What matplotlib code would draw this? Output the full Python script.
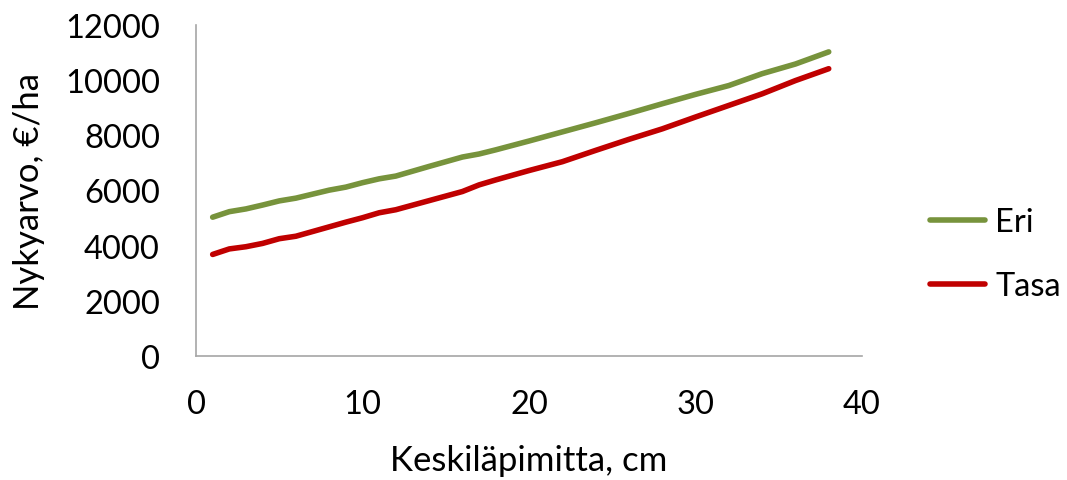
import matplotlib
matplotlib.use("Agg")
import matplotlib.pyplot as plt

plt.rcParams['font.family'] = ['Lato', 'DejaVu Sans']

# Keskiläpimitta (cm)
diameter = [1, 2, 3, 4, 5, 6, 8, 9, 10, 11, 12, 14, 16, 17, 18, 20, 22, 24, 26, 28, 30, 32, 34, 36, 38]

# Nykyarvo (€/ha)
eri = [5030, 5230, 5330, 5470, 5620, 5720, 6010, 6120, 6280, 6420, 6520, 6870, 7210, 7320,
       7470, 7790, 8120, 8450, 8790, 9140, 9480, 9800, 10230, 10580, 11020]
tasa = [3680, 3880, 3960, 4080, 4250, 4340, 4680, 4850, 5010, 5190, 5300, 5630, 5960, 6200,
        6380, 6720, 7040, 7450, 7850, 8230, 8660, 9080, 9500, 9980, 10410]

fig = plt.figure(figsize=(10.67, 4.81), dpi=100)
ax = fig.add_axes([0.1837, 0.2578, 0.6242, 0.6885])

ax.plot(diameter, eri, color='#77933C', linewidth=4.0, solid_capstyle='round', label='Eri')
ax.plot(diameter, tasa, color='#C00000', linewidth=4.0, solid_capstyle='round', label='Tasa')

ax.set_xlim(0, 40)
ax.set_ylim(0, 12000)
ax.set_xticks([0, 10, 20, 30, 40])
ax.set_yticks(range(0, 12001, 2000))

for side in ['top', 'right']:
    ax.spines[side].set_visible(False)
for side in ['left', 'bottom']:
    ax.spines[side].set_color('#A6A6A6')
    ax.spines[side].set_linewidth(1.2)

ax.tick_params(axis='both', length=0, labelsize=23.5, colors='black')
ax.tick_params(axis='x', pad=24)
ax.tick_params(axis='y', pad=26)

ax.set_xlabel('Keskiläpimitta, cm', fontsize=25, labelpad=18)
ax.set_ylabel('Nykyarvo, €/ha', fontsize=25, labelpad=14)

ax.legend(loc='center left', bbox_to_anchor=(1.102, 0.308), frameon=False, fontsize=23.5,
          borderaxespad=0, borderpad=0, handlelength=1.7, handletextpad=0.3,
          labelspacing=1.04)

fig.savefig('out.png', dpi=100)
